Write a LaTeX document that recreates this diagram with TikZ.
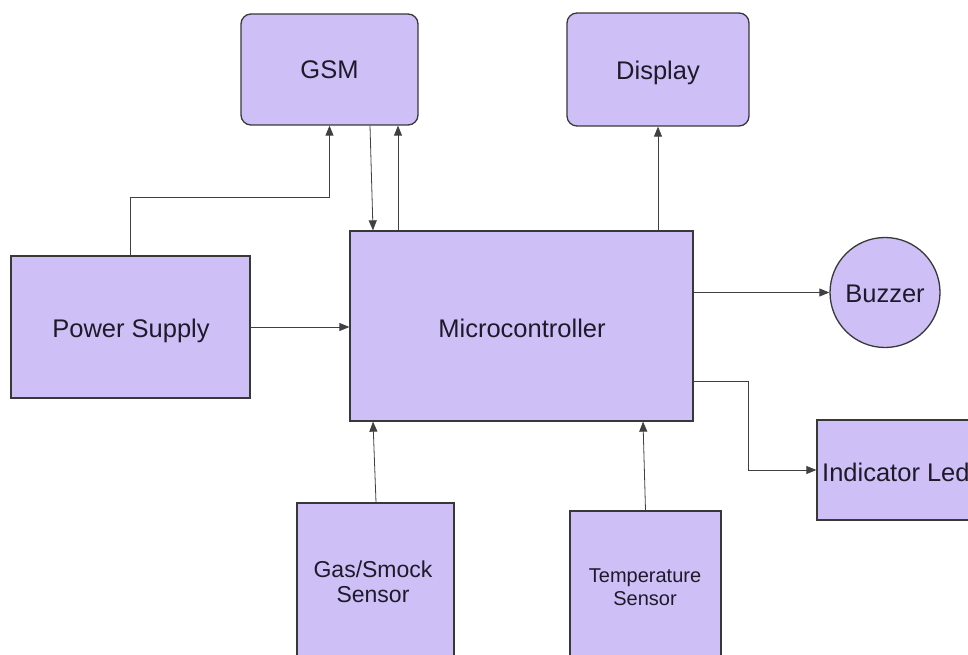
\documentclass[tikz,border=0pt]{standalone}
\usepackage{fontspec}
\setmainfont{Liberation Sans}
\usetikzlibrary{arrows.meta,calc}
\definecolor{blockfill}{HTML}{CEC0F6}
\definecolor{blockline}{HTML}{383838}
\definecolor{wire}{HTML}{404040}
\definecolor{ink}{HTML}{1E1A2A}
\tikzset{
  label25/.style={font=\fontsize{25.5}{30}\selectfont, text=ink, text height=18pt, text depth=5pt},
  block/.style={draw=blockline, fill=blockfill, line width=1.3pt, inner sep=0pt},
  roundblock/.style={block, rounded corners=10pt},
  circblock/.style={block, circle},
  arr/.style={draw=wire, line width=0.8pt, -{Triangle[length=10pt,width=8pt]}},
}
\begin{document}
\begin{tikzpicture}[x=1pt,y=-1pt]
  \useasboundingbox (0,0) rectangle (968,655);
  \clip (0,0) rectangle (968,655);
  \fill[white] (0,0) rectangle (968,655);

  % blocks and their labels
  \node[roundblock, minimum width=177pt, minimum height=111pt] (gsm) at (329.5,69.5) {};
  \node[label25] (gsmtext) at (329.5,72.5) {GSM};
  \node[roundblock, minimum width=182pt, minimum height=113pt] (display) at (658,69.5) {};
  \node[label25] (displaytext) at (658,73.5) {Display};
  \node[block, minimum width=343pt, minimum height=190pt] (micro) at (521.5,326) {};
  \node[label25] (microtext) at (522,330.5) {Microcontroller};
  \node[block, minimum width=239pt, minimum height=142pt] (power) at (130.5,327) {};
  \node[label25] (powertext) at (131,330.5) {Power Supply};
  \node[circblock, minimum size=110pt] (buzzer) at (885,292.5) {};
  \node[label25] (buzzertext) at (885,295.5) {Buzzer};
  \node[block, minimum width=170pt, minimum height=100pt] (led) at (902,470) {};
  \node[label25, anchor=west, inner sep=0pt] (ledtext) at (822,474.5) {Indicator Led};
  \node[block, minimum width=157pt, minimum height=158pt] (gas) at (375.5,582) {};
  \node[font=\fontsize{23}{25}\selectfont, text=ink, align=center] (gastext) at (373,582) {Gas/Smock\\Sensor};
  \node[block, minimum width=151pt, minimum height=151pt] (temp) at (645.5,586.5) {};
  \node[font=\fontsize{20}{23}\selectfont, text=ink, align=center] (temptext) at (645,587) {Temperature\\Sensor};

  % connectors
  \coordinate (pjoint) at (329.5,197);
  \coordinate (ledbend) at (748,381);
  \draw[arr] (power.east) -- (micro.west |- power.east);
  \draw[arr] (power.north) |- (pjoint) -- (gsm.south);
  \draw[arr] ([xshift=40.5pt]gsm.south) -- ([xshift=-148.5pt]micro.north);
  \draw[arr] ([xshift=-123.5pt]micro.north) -- ([xshift=68.5pt]gsm.south);
  \draw[arr] (display.south |- micro.north) -- (display.south);
  \draw[arr] (micro.east |- buzzer.west) -- (buzzer.west);
  \draw[arr] (micro.east |- ledbend) -- (ledbend) |- (led.west);
  \draw[arr] ([xshift=0.5pt]gas.north) -- ([xshift=-148.5pt]micro.south);
  \draw[arr] (temp.north) -- ([xshift=121.5pt]micro.south);
\end{tikzpicture}
\end{document}
